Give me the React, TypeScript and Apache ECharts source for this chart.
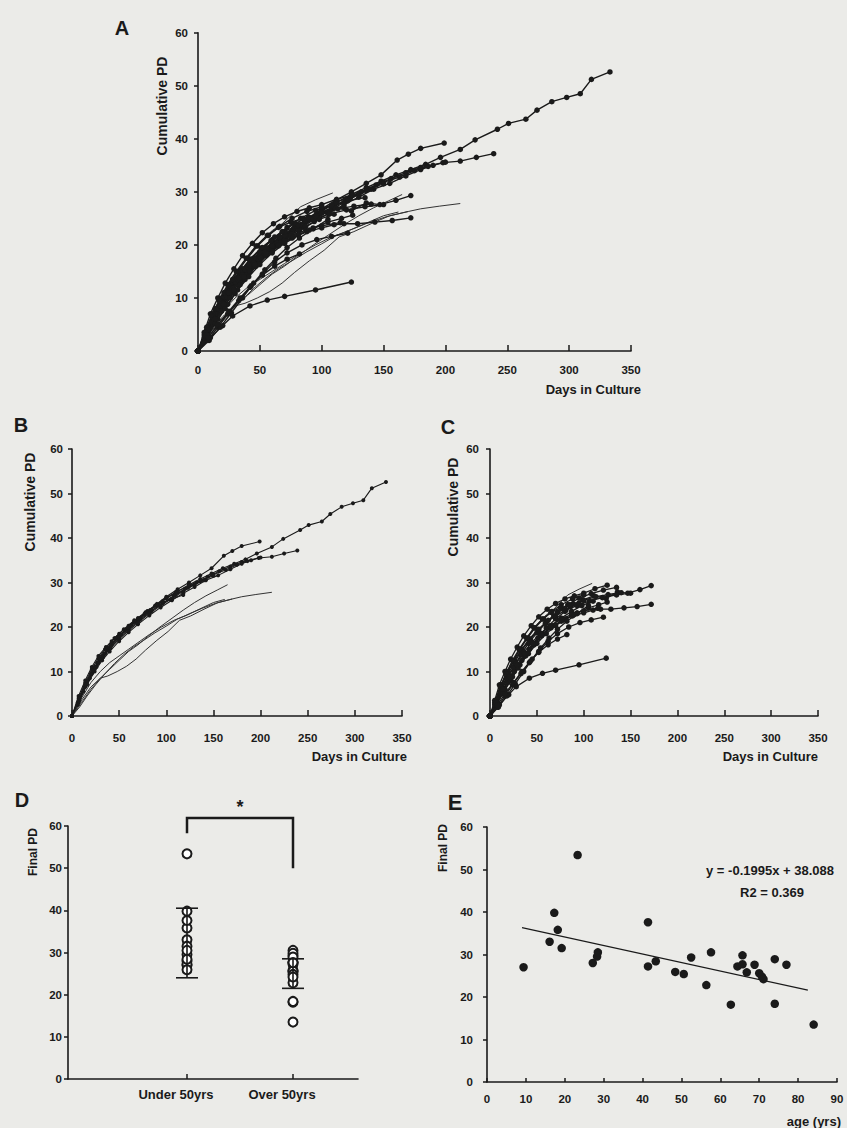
import React, { useEffect, useRef } from 'react';
import * as echarts from 'echarts';

type Pt = [number, number];

// ---------- Panel B: donors under 50 yrs (growth curves: [day, cumulative PD]) ----------
const under50Curves: Pt[][] = [
  [[0,0],[7,3],[14,6.5],[21,9.5],[28,12],[35,14],[42,16],[49,17.8],[56,19.2],[63,20.5],[70,21.8],[80,23.5],[90,25],[100,26.5],[112,28],[124,29.5],[136,30.8],[148,32],[160,33.2],[172,34.2],[184,35.2],[196,36.5],[212,38],[224,39.8],[242,41.8],[251,42.9],[265,43.7],[274,45.4],[286,47],[298,47.8],[309,48.5],[318,51.2],[333,52.6]],
  [[0,0],[7,4],[14,7.5],[21,10.5],[28,13],[35,15],[42,16.8],[50,18.5],[60,20.3],[70,22],[80,23.6],[90,25.2],[100,26.8],[112,28.5],[124,30],[136,31.6],[148,33.2],[161,36],[170,37.1],[180,38.2],[199,39.2]],
  [[0,0],[8,4],[16,7.5],[24,10.5],[32,13],[40,15.2],[50,17.5],[60,19.5],[72,21.6],[84,23.5],[96,25.3],[108,27],[120,28.6],[132,30],[144,31.3],[156,32.5],[168,33.6],[180,34.6],[198,35.5],[212,35.8],[225,36.5],[239,37.2]],
  [[0,0],[8,3.5],[16,7],[24,10],[32,12.5],[40,14.5],[50,16.8],[60,18.8],[70,20.6],[82,22.6],[94,24.4],[106,26],[118,27.6],[130,29],[142,30.5],[155,31.6],[168,33],[180,34.2],[190,35],[200,35.6]],
  [[0,0],[6,3],[13,6.5],[20,9.5],[27,12],[34,14],[42,16],[52,18.3],[62,20.2],[73,22],[85,23.8],[97,25.5],[110,27.2],[123,28.8],[136,30.3],[150,31.8],[163,32.8],[175,34],[186,34.8]],
  [[0,0],[7,3.5],[14,7],[22,10.2],[30,13],[38,15.3],[47,17.5],[56,19.3],[66,21.2],[77,23],[88,24.8],[100,26.5],[112,28],[124,29.3],[137,30.5],[150,31.5]],
  [[0,0],[6,2.5],[12,5.5],[19,8.5],[26,11],[33,13.2],[41,15.3],[50,17.3],[60,19.2],[70,21],[82,23],[94,24.8],[106,26.4],[118,28],[130,29.5],[140,30.5]],
  [[0,0],[10,3],[20,6],[30,8.5],[40,10.5],[50,12.5],[60,14.5],[70,16],[80,17.8],[92,19.8],[105,21.8],[118,23.8],[130,25.5],[142,27],[154,28.3],[165,29.5]],
  [[0,0],[10,3.5],[20,6.5],[30,8.5],[38,9],[48,10],[58,11.2],[68,12.8],[78,14.8],[90,17],[102,19],[114,21.5],[126,22.5],[140,24],[155,25.5],[170,26.3],[180,26.8],[195,27.3],[212,27.8]],
  [[0,0],[10,4],[20,7.5],[30,10],[40,12],[50,13.5],[60,15],[70,16.5],[82,18.3],[95,20],[108,21.5],[120,22.5],[135,24],[150,25.5],[162,26.2]],
  [[0,0],[7,4.5],[14,8],[21,11],[28,13.5],[36,15.5],[45,17.5],[55,19.5],[66,21.5],[78,23.3],[90,24.8],[104,26.2],[118,27.2]],
  [[0,0],[8,2],[16,4.5],[25,7],[35,9.5],[45,11.8],[55,13.8],[65,15.5],[76,17],[88,18.7],[100,20.2],[112,21.8],[125,23],[138,24.2],[152,25.3],[170,26.3]],
  [[0,0],[8,4],[16,8],[24,11],[32,13.5],[41,15.8],[50,17.8],[60,19.8],[71,21.8],[83,23.8],[96,25.8],[110,27.8]],
];
const under50Thin = [false,false,false,false,false,false,false,true,true,true,false,true,false];

// ---------- Panel C: donors over 50 yrs ----------
const over50Curves: Pt[][] = [
  [[0,0],[5,3],[10,6],[16,9],[22,11.5],[29,14],[36,16.5],[44,19],[52,21],[60,22.7],[68,24],[75,25.5],[83,27.2],[95,28.5],[109,29.8]],
  [[0,0],[6,2.5],[12,5],[19,7.5],[26,10],[34,12.5],[42,15],[51,17.5],[60,19.8],[70,21.8],[80,23.5],[86,24.6],[99,26.1],[111,27],[124,26.4],[136,27.9],[147,27.6],[160,28.4],[172,29.3]],
  [[0,0],[7,3],[14,6],[21,8.5],[29,11],[37,13.5],[46,16],[55,18],[65,19.8],[76,21.3],[88,22.5],[100,23.2],[110,23.8],[118,24],[129,24],[143,24.3],[157,24.6],[172,25.1]],
  [[0,0],[10,2.5],[20,4.8],[28,6.6],[42,8.5],[56,9.6],[70,10.3],[95,11.5],[124,13]],
  [[0,0],[8,2],[16,4.5],[24,7],[33,9.5],[42,12],[52,14.5],[62,16.8],[72,18.5],[84,20],[96,21],[108,21.6],[121,22.2]],
  [[0,0],[6,3.5],[12,7],[19,10],[26,12.5],[34,15],[42,17.3],[51,19.4],[60,21],[70,22.5],[81,23.8],[93,24.8],[106,25.8],[120,26.6],[135,27.2],[150,27.6]],
  [[0,0],[5,2.5],[11,5.5],[18,8.5],[25,11],[33,13.8],[41,16.3],[50,18.7],[59,20.8],[68,22.5],[78,24],[89,25.2],[100,26],[113,26.8],[126,27.3],[140,27.7]],
  [[0,0],[6,3],[12,6.2],[19,9.3],[26,12],[34,14.8],[43,17.3],[52,19.5],[62,21.5],[72,23.3],[83,25],[95,26.5],[108,27.5],[121,28.3],[135,28.9]],
  [[0,0],[5,3.5],[10,7],[16,10],[22,12.8],[29,15.5],[36,18],[44,20.3],[52,22.3],[61,24],[70,25.3],[80,26.3],[90,27],[100,27.6],[112,28.6],[125,29.4]],
  [[0,0],[6,3],[12,6.5],[18,9.5],[25,12.3],[32,15],[40,17.5],[48,19.8],[57,21.8],[66,23.5],[76,25],[88,26.3],[100,27.2]],
  [[0,0],[7,2.5],[14,5.2],[22,8],[30,10.8],[38,13.5],[47,16],[56,18.3],[66,20.3],[76,22],[87,23.5],[98,24.8],[110,25.8]],
  [[0,0],[8,3],[16,6],[24,8.8],[32,11.5],[41,14],[50,16.3],[60,18.5],[70,20.3],[81,21.8],[93,23.2],[105,24.3],[116,25],[125,25.6]],
  [[0,0],[5,3],[11,6.5],[17,9.5],[24,12.5],[31,15],[39,17.5],[47,19.8],[56,21.8],[65,23.3],[75,24.3],[85,25],[95,25.4]],
  [[0,0],[9,2],[18,4.5],[27,7.2],[36,10],[45,12.8],[54,15.3],[63,17.5],[72,19.5],[82,21.3],[93,23],[105,24.8]],
  [[0,0],[6,2.8],[13,6],[20,9],[28,11.8],[36,14.3],[45,16.6],[54,18.6],[64,20.3],[75,21.7],[87,22.8],[100,23.6],[115,24.2]],
  [[0,0],[7,3],[14,6],[21,8.8],[29,11.5],[37,14],[46,16.3],[55,18.3],[65,20],[77,21.5],[90,22.8]],
  [[0,0],[8,2.5],[16,5],[25,7.5],[34,10],[43,12.3],[52,14.3],[62,16],[72,17.3],[82,18.3]],
];
const over50Thin = [true,false,false,false,false,false,false,false,false,false,false,false,false,false,false,false,false];

// ---------- Panel E: donor age vs final PD ----------
const ageFinalPD: Pt[] = [
  [9.4,27.0],[16.1,33.0],[17.3,39.8],[18.2,35.8],[19.2,31.5],[23.3,53.4],[27.2,28.0],[28.3,29.5],[28.5,30.5],
  [41.4,37.6],[41.4,27.2],[43.4,28.4],[48.4,25.9],[50.6,25.4],[52.5,29.3],[56.4,22.8],[57.6,30.5],[62.7,18.2],
  [64.4,27.2],[65.7,29.8],[65.7,27.7],[66.8,25.8],[68.8,27.6],[70.0,25.6],[70.7,24.8],[71.1,24.2],[74.0,28.9],
  [74.0,18.4],[77.0,27.6],[84.0,13.5],
];
const trendLine: Pt[] = [[9,36.3],[82.5,21.6]];
const equationText = 'y = -0.1995x + 38.088';
const r2Text = 'R2 = 0.369';

// ---------- Panel D: final PD by age group ----------
const ageGroups = ['Under 50yrs', 'Over 50yrs'];
const finalUnder50 = ageFinalPD.filter(p => p[0] < 50).map(p => p[1]);
const finalOver50 = ageFinalPD.filter(p => p[0] >= 50).map(p => p[1]);
const errLow = [24, 21.5];
const errHigh = [40.5, 28.5];
const bracketTop = 61.9;
const bracketLeftEnd = 58.3;
const bracketRightEnd = 50;
const starLevel = 65.5;

const dayTicks = { min: 0, max: 350, interval: 50 };
const pdTicks = { min: 0, max: 60, interval: 10 };
const ageTicks = { min: 0, max: 90, interval: 10 };

const INK = '#1a1a1a';
const FONT = '"Liberation Sans", Arial, Helvetica, sans-serif';

export default function App() {
  const ref = useRef<HTMLDivElement>(null);
  useEffect(() => {
    if (!ref.current) return;
    const chart = echarts.init(ref.current, undefined, { renderer: 'svg' });

    const lineAxis = { show: true, lineStyle: { color: INK, width: 1.6 } };
    const lbl = (margin: number) => ({ color: INK, fontSize: 11.5, fontWeight: 'bold' as const, fontFamily: FONT, margin });
    const nameStyle = (padTop: number) => ({ color: INK, fontSize: 13, fontWeight: 'bold' as const, fontFamily: FONT, align: 'right' as const, verticalAlign: 'top' as const, padding: [padTop, 0, 0, 0] });

    const xDays = (gi: number, labelMargin: number, nameGap: number, padTop: number) => ({
      type: 'value', gridIndex: gi, ...dayTicks,
      axisLine: lineAxis, axisTick: { show: true, inside: true, length: 6, lineStyle: { color: INK, width: 1.5 } },
      axisLabel: lbl(labelMargin), splitLine: { show: false },
      name: 'Days in Culture', nameLocation: 'end', nameGap, nameTextStyle: nameStyle(padTop),
    });
    const yPD = (gi: number, labelMargin: number) => ({
      type: 'value', gridIndex: gi, ...pdTicks,
      axisLine: lineAxis, axisTick: { show: true, length: 4, lineStyle: { color: INK, width: 1.5 } },
      axisLabel: lbl(labelMargin), splitLine: { show: false },
    });

    const curveSeries = (curves: Pt[][], thin: boolean[], ai: number, size: number, lw: number) =>
      curves.map((c, i) => ({
        type: 'line', xAxisIndex: ai, yAxisIndex: ai, data: c,
        showSymbol: !thin[i], symbol: 'circle', symbolSize: size,
        lineStyle: { color: thin[i] ? '#333' : INK, width: thin[i] ? 1 : lw },
        itemStyle: { color: INK, opacity: 1 }, silent: true, z: 2,
      }));

    const dPoints = (vals: number[], idx: number) => vals.map(v => [idx, v]);

    const option: any = {
      animation: false,
      backgroundColor: '#ebebe8',
      grid: [
        { left: 198, top: 32.7, width: 433, height: 318.3 },
        { left: 72, top: 449, width: 330, height: 267 },
        { left: 490, top: 449, width: 328, height: 267 },
        { left: 134, top: 826, width: 212, height: 253 },
        { left: 68, top: 826, width: 290, height: 253 },
        { left: 487, top: 827, width: 350, height: 256 },
      ],
      xAxis: [
        xDays(0, 13, 10, 32),
        xDays(1, 16, 5, 34),
        xDays(2, 16, 0, 34),
        {
          type: 'category', gridIndex: 3, data: ageGroups, boundaryGap: true,
          axisLine: { show: false },
          axisTick: { show: true, alignWithLabel: true, inside: true, length: 5, lineStyle: { color: INK, width: 1.5 } },
          axisLabel: { color: INK, fontSize: 13, fontWeight: 'bold', fontFamily: FONT, margin: 9, padding: [0, 22, 0, 0] },
        },
        {
          type: 'value', gridIndex: 4, min: 0, max: 1,
          axisLine: lineAxis, axisTick: { show: false }, axisLabel: { show: false }, splitLine: { show: false },
        },
        {
          type: 'value', gridIndex: 5, ...ageTicks,
          axisLine: lineAxis, axisTick: { show: true, inside: true, length: 4, lineStyle: { color: INK, width: 1.5 } },
          axisLabel: lbl(11), splitLine: { show: false },
          name: 'age (yrs)', nameLocation: 'end', nameGap: 4, nameTextStyle: nameStyle(33),
        },
      ],
      yAxis: [
        yPD(0, 10),
        yPD(1, 9),
        yPD(2, 11),
        { ...yPD(3, 6), offset: 66 },
        { type: 'value', gridIndex: 4, show: false, min: 0, max: 60 },
        yPD(5, 14),
      ],
      graphic: [
        { type: 'text', x: 122, y: 28, style: { text: 'A', font: `bold 20px ${FONT}`, fill: INK, align: 'center', verticalAlign: 'middle' } },
        { type: 'text', x: 21, y: 425, style: { text: 'B', font: `bold 20px ${FONT}`, fill: INK, align: 'center', verticalAlign: 'middle' } },
        { type: 'text', x: 448, y: 427, style: { text: 'C', font: `bold 20px ${FONT}`, fill: INK, align: 'center', verticalAlign: 'middle' } },
        { type: 'text', x: 22, y: 800, style: { text: 'D', font: `bold 20px ${FONT}`, fill: INK, align: 'center', verticalAlign: 'middle' } },
        { type: 'text', x: 455, y: 802, style: { text: 'E', font: `bold 22px ${FONT}`, fill: INK, align: 'center', verticalAlign: 'middle' } },
        { type: 'text', x: 162, y: 106, rotation: Math.PI / 2, style: { text: 'Cumulative PD', font: `bold 14px ${FONT}`, fill: INK, align: 'center', verticalAlign: 'middle' } },
        { type: 'text', x: 30, y: 502, rotation: Math.PI / 2, style: { text: 'Cumulative PD', font: `bold 14px ${FONT}`, fill: INK, align: 'center', verticalAlign: 'middle' } },
        { type: 'text', x: 453, y: 507, rotation: Math.PI / 2, style: { text: 'Cumulative PD', font: `bold 14px ${FONT}`, fill: INK, align: 'center', verticalAlign: 'middle' } },
        { type: 'text', x: 33, y: 852, rotation: Math.PI / 2, style: { text: 'Final PD', font: `bold 12px ${FONT}`, fill: INK, align: 'center', verticalAlign: 'middle' } },
        { type: 'text', x: 443, y: 848, rotation: Math.PI / 2, style: { text: 'Final PD', font: `bold 12px ${FONT}`, fill: INK, align: 'center', verticalAlign: 'middle' } },
        { type: 'text', x: 770, y: 870, style: { text: equationText, font: `bold 13px ${FONT}`, fill: INK, align: 'center', verticalAlign: 'middle' } },
        { type: 'text', x: 772, y: 892, style: { text: r2Text, font: `bold 13px ${FONT}`, fill: INK, align: 'center', verticalAlign: 'middle' } },
      ],
      series: [
        ...curveSeries(under50Curves, under50Thin, 0, 5.5, 1.4),
        ...curveSeries(over50Curves, over50Thin, 0, 5.5, 1.4),
        ...curveSeries(under50Curves, under50Thin, 1, 4, 1.1),
        ...curveSeries(over50Curves, over50Thin, 2, 5.5, 1.3),
        {
          type: 'scatter', xAxisIndex: 3, yAxisIndex: 3,
          data: [...dPoints(finalUnder50, 0), ...dPoints(finalOver50, 1)],
          symbol: 'emptyCircle', symbolSize: 9,
          itemStyle: { color: INK, borderColor: INK, borderWidth: 1.6, opacity: 1 }, silent: true, z: 3,
        },
        {
          type: 'custom', xAxisIndex: 3, yAxisIndex: 3, silent: true, z: 4,
          data: ageGroups.map((_, i) => [i, errLow[i], errHigh[i]]),
          renderItem: (_p: any, api: any) => {
            const lo = api.coord([api.value(0), api.value(1)]);
            const hi = api.coord([api.value(0), api.value(2)]);
            const w = 11;
            const st = { stroke: INK, lineWidth: 1.6 };
            return {
              type: 'group', children: [
                { type: 'line', shape: { x1: lo[0], y1: lo[1], x2: hi[0], y2: hi[1] }, style: st },
                { type: 'line', shape: { x1: lo[0] - w, y1: lo[1], x2: lo[0] + w, y2: lo[1] }, style: st },
                { type: 'line', shape: { x1: hi[0] - w, y1: hi[1], x2: hi[0] + w, y2: hi[1] }, style: st },
              ],
            };
          },
        },
        {
          type: 'custom', xAxisIndex: 3, yAxisIndex: 3, silent: true, z: 4, clip: false,
          data: [[0, 1, bracketTop, bracketLeftEnd, bracketRightEnd, starLevel]],
          renderItem: (_p: any, api: any) => {
            const tl = api.coord([api.value(0), api.value(2)]);
            const tr = api.coord([api.value(1), api.value(2)]);
            const le = api.coord([api.value(0), api.value(3)]);
            const re = api.coord([api.value(1), api.value(4)]);
            const sl = api.coord([api.value(0), api.value(5)]);
            const st = { stroke: INK, lineWidth: 2.5, fill: 'none' };
            return {
              type: 'group', children: [
                { type: 'polyline', shape: { points: [[le[0], le[1]], [tl[0], tl[1]], [tr[0], tr[1]], [re[0], re[1]]] }, style: st },
                { type: 'text', style: { text: '*', x: (tl[0] + tr[0]) / 2, y: sl[1] + 4, align: 'center', verticalAlign: 'middle', font: `bold 18px ${FONT}`, fill: INK } },
              ],
            };
          },
        },
        {
          type: 'scatter', xAxisIndex: 5, yAxisIndex: 5, data: ageFinalPD,
          symbol: 'circle', symbolSize: 8.5, itemStyle: { color: INK, opacity: 1 }, silent: true, z: 3,
        },
        {
          type: 'line', xAxisIndex: 5, yAxisIndex: 5, data: trendLine, showSymbol: false,
          lineStyle: { color: INK, width: 1.3 }, silent: true, z: 2,
        },
      ],
    };
    chart.setOption(option);
    return () => chart.dispose();
  }, []);
  return <div ref={ref} style={{ position: 'absolute', left: 0, top: 0, width: 847, height: 1128 }} />;
}
